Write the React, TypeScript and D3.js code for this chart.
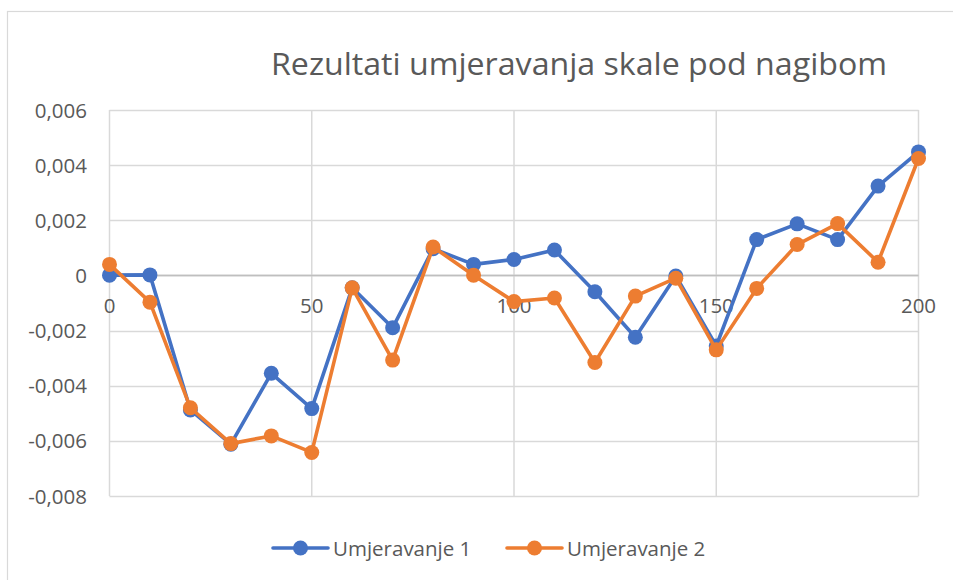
import { useEffect, useRef } from 'react';
import * as d3 from 'd3';

// x positions of measurements
const xValues = [0, 10, 20, 30, 40, 50, 60, 70, 80, 90, 100, 110, 120, 130, 140, 150, 160, 170, 180, 190, 200];
const umjeravanje1 = [
  0.00001, 0.00002, -0.00488, -0.00612, -0.00355, -0.00483, -0.00045, -0.0019, 0.00097, 0.0004, 0.00058,
  0.00092, -0.00059, -0.00224, -0.00002, -0.00256, 0.0013, 0.00187, 0.0013, 0.00324, 0.00448,
];
const umjeravanje2 = [
  0.0004, -0.00097, -0.0048, -0.0061, -0.00582, -0.00642, -0.00045, -0.00307, 0.00103, 0.00001, -0.00095,
  -0.00082, -0.00316, -0.00075, -0.0001, -0.0027, -0.00047, 0.00112, 0.00188, 0.00048, 0.00424,
];
const seriesNames = ['Umjeravanje 1', 'Umjeravanje 2'];
const seriesColors = ['#4472C4', '#ED7D31'];
const yTicks = [-0.008, -0.006, -0.004, -0.002, 0, 0.002, 0.004, 0.006];
const xTicks = [0, 50, 100, 150, 200];
const title = 'Rezultati umjeravanja skale pod nagibom';

const W = 953;
const H = 580;
const FONT = '"Open Sans", sans-serif';
const TEXT = '#595959';

const fmt = (v: number) => {
  if (Math.abs(v) < 1e-12) return '0';
  return (v < 0 ? '-' : '') + Math.abs(v).toFixed(3).replace('.', ',');
};

export default function App() {
  const ref = useRef<SVGSVGElement>(null);

  useEffect(() => {
    const svg = d3.select(ref.current);
    svg.selectAll('*').remove();

    const x = d3.scaleLinear().domain([0, 200]).range([109.5, 918.5]);
    const y = d3.scaleLinear().domain([-0.008, 0.006]).range([496, 110]);

    // chart frame
    svg.append('rect')
      .attr('x', 7.5).attr('y', 11.5)
      .attr('width', W + 20).attr('height', H + 20)
      .attr('fill', '#fff').attr('stroke', '#D9D9D9').attr('stroke-width', 1.2);

    svg.append('text')
      .attr('x', 271).attr('y', 75)
      .attr('font-family', FONT).attr('font-size', 31)
      .attr('fill', TEXT)
      .attr('textLength', 616).attr('lengthAdjust', 'spacingAndGlyphs')
      .text(title);

    const grid = svg.append('g');
    grid.selectAll('line.h')
      .data(yTicks)
      .join('line')
      .attr('x1', x(0)).attr('x2', x(200))
      .attr('y1', (d) => Math.round(y(d)) + 0.5).attr('y2', (d) => Math.round(y(d)) + 0.5)
      .attr('stroke', (d) => (d === 0 ? '#BFBFBF' : '#D9D9D9'))
      .attr('stroke-width', 1.5);
    grid.selectAll('line.v')
      .data(xTicks)
      .join('line')
      .attr('y1', y(0.006)).attr('y2', y(-0.008))
      .attr('x1', (d) => x(d)).attr('x2', (d) => x(d))
      .attr('stroke', '#D9D9D9')
      .attr('stroke-width', 1.5);
    // re-draw zero axis above vertical gridlines
    svg.append('line')
      .attr('x1', x(0)).attr('x2', x(200))
      .attr('y1', Math.round(y(0)) + 0.5).attr('y2', Math.round(y(0)) + 0.5)
      .attr('stroke', '#BFBFBF').attr('stroke-width', 1.5);

    svg.append('g')
      .selectAll('text')
      .data(yTicks)
      .join('text')
      .attr('x', 87)
      .attr('y', (d) => y(d) + 7.5)
      .attr('text-anchor', 'end')
      .attr('font-family', FONT).attr('font-size', 20.5)
      .attr('fill', TEXT)
      .text((d) => fmt(d));

    svg.append('g')
      .selectAll('text')
      .data(xTicks)
      .join('text')
      .attr('x', (d) => x(d))
      .attr('y', y(0) + 37.5)
      .attr('text-anchor', 'middle')
      .attr('font-family', FONT).attr('font-size', 20.5)
      .attr('fill', TEXT)
      .text((d) => String(d));

    const line = d3.line<number>()
      .x((_, i) => x(xValues[i]))
      .y((d) => y(d));

    [umjeravanje1, umjeravanje2].forEach((vals, si) => {
      const g = svg.append('g');
      g.append('path')
        .datum(vals)
        .attr('fill', 'none')
        .attr('stroke', seriesColors[si])
        .attr('stroke-width', 3.6)
        .attr('stroke-linejoin', 'round')
        .attr('d', line);
      g.selectAll('circle')
        .data(vals)
        .join('circle')
        .attr('cx', (_, i) => x(xValues[i]))
        .attr('cy', (d) => y(d))
        .attr('r', 7.5)
        .attr('fill', seriesColors[si]);
    });

    // legend
    const legendX = [273, 507];
    seriesNames.forEach((name, i) => {
      const g = svg.append('g').attr('transform', `translate(${legendX[i]},548)`);
      g.append('line')
        .attr('x1', 0).attr('x2', 55)
        .attr('stroke', seriesColors[i]).attr('stroke-width', 3.6)
        .attr('stroke-linecap', 'round');
      g.append('circle').attr('cx', 27.5).attr('r', 7.5).attr('fill', seriesColors[i]);
      g.append('text')
        .attr('x', 60).attr('y', 7.5)
        .attr('font-family', FONT).attr('font-size', 20.5)
        .attr('fill', TEXT)
        .text(name);
    });
  }, []);

  return (
    <svg
      ref={ref}
      width={W}
      height={H}
      viewBox={`0 0 ${W} ${H}`}
      style={{ position: 'absolute', left: 0, top: 0, background: '#fff' }}
    />
  );
}
